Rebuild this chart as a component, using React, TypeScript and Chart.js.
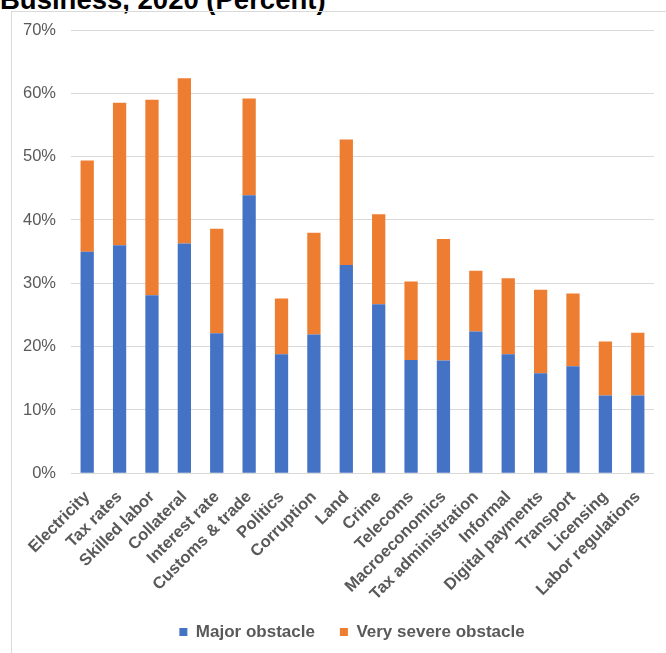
import React, { useEffect, useRef } from "react";
import { Chart, registerables } from "chart.js";

Chart.register(...registerables);

const categories = [
  "Electricity",
  "Tax rates",
  "Skilled labor",
  "Collateral",
  "Interest rate",
  "Customs & trade",
  "Politics",
  "Corruption",
  "Land",
  "Crime",
  "Telecoms",
  "Macroeconomics",
  "Tax administration",
  "Informal",
  "Digital payments",
  "Transport",
  "Licensing",
  "Labor regulations",
];

const majorObstacle = [35.0, 36.0, 28.1, 36.3, 22.1, 43.9, 18.8, 21.9, 32.9, 26.7, 17.9, 17.8, 22.4, 18.8, 15.8, 16.9, 12.3, 12.3];
const verySevereObstacle = [14.4, 22.5, 30.9, 26.1, 16.5, 15.3, 8.8, 16.1, 19.8, 14.2, 12.4, 19.2, 9.6, 12.0, 13.2, 11.5, 8.5, 9.9];

const yTicks = [0, 10, 20, 30, 40, 50, 60, 70];

const FONT = "'Liberation Sans', Arial, Helvetica, sans-serif";
const GRAY = "#595959";

const legendShift = {
  id: "legendShift",
  afterLayout(chart: any) {
    const l = chart.legend;
    if (l) {
      l.left += 13;
      l.right += 13;
    }
  },
};

export default function App() {
  const canvasRef = useRef<HTMLCanvasElement | null>(null);

  useEffect(() => {
    if (!canvasRef.current) return;
    const chart = new Chart(canvasRef.current, {
      type: "bar",
      data: {
        labels: categories,
        datasets: [
          {
            label: "Major obstacle",
            data: majorObstacle,
            backgroundColor: "#4472C4",
            barPercentage: 0.41,
            categoryPercentage: 1,
          },
          {
            label: "Very severe obstacle",
            data: verySevereObstacle,
            backgroundColor: "#ED7D31",
            barPercentage: 0.41,
            categoryPercentage: 1,
          },
        ],
      },
      plugins: [legendShift],
      options: {
        animation: false,
        responsive: false,
        maintainAspectRatio: false,
        layout: { padding: { left: 8, right: 8, top: 18, bottom: 2.5 } },
        plugins: {
          tooltip: { enabled: false },
          title: { display: false },
          legend: {
            display: true,
            position: "bottom",
            labels: {
              boxWidth: 8,
              boxHeight: 8,
              padding: 25,
              color: GRAY,
              font: { family: FONT, size: 17, weight: "bold" },
            },
          },
        },
        scales: {
          x: {
            stacked: true,
            grid: { display: false, drawTicks: false },
            border: { display: true, color: "#d9d9d9", width: 1 },
            ticks: {
              autoSkip: false,
              maxRotation: 45,
              minRotation: 45,
              padding: 14,
              color: GRAY,
              font: { family: FONT, size: 16.5, weight: "bold" },
            },
            afterFit: (scale: any) => {
              scale.height = 125.2;
            },
          },
          y: {
            stacked: true,
            min: 0,
            max: 70,
            afterBuildTicks: (scale: any) => {
              scale.ticks = yTicks.map((v) => ({ value: v }));
            },
            grid: {
              color: "#d9d9d9",
              lineWidth: 1,
              drawTicks: true,
              tickLength: 15,
              tickColor: "rgba(0,0,0,0)",
            },
            border: { display: false },
            ticks: {
              padding: 0,
              color: GRAY,
              font: { family: FONT, size: 16.5 },
              callback: (v: any) => `${v}%`,
            },
            afterFit: (scale: any) => {
              scale.width = 51;
            },
          },
        },
      },
    });
    return () => chart.destroy();
  }, []);

  return (
    <div
      style={{
        position: "fixed",
        left: 0,
        top: 0,
        width: 666,
        height: 653,
        background: "#ffffff",
        overflow: "hidden",
      }}
    >
      <div
        style={{
          position: "absolute",
          left: 0,
          top: -14,
          fontFamily: FONT,
          fontWeight: "bold",
          fontSize: 27.5,
          lineHeight: "27px",
          color: "#000000",
          whiteSpace: "nowrap",
        }}
      >
        Business, 2020 (Percent)
      </div>
      <div
        style={{
          position: "absolute",
          left: 11,
          top: 11,
          width: 700,
          height: 700,
          border: "1px solid #d9d9d9",
          boxSizing: "border-box",
        }}
      />
      <canvas
        ref={canvasRef}
        width={654}
        height={641}
        style={{ position: "absolute", left: 12, top: 12, width: 654, height: 641 }}
      />
    </div>
  );
}
